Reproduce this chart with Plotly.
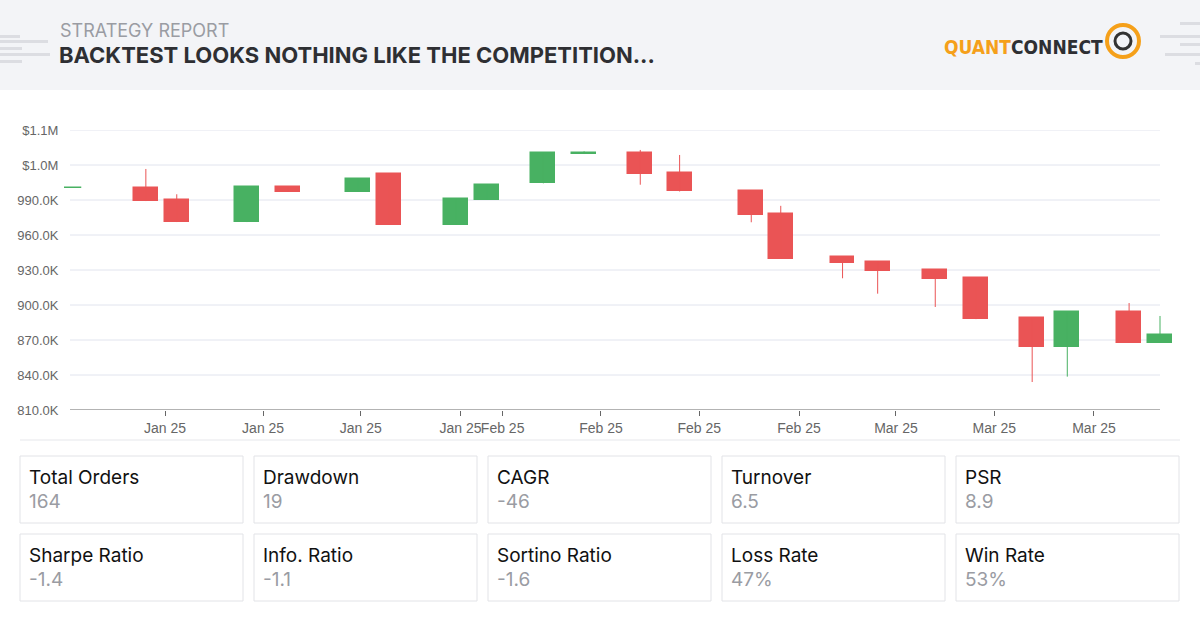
import plotly.graph_objects as go

# data (x in days from start)
x_days = [0, 5.4, 7.6, 12.6, 15.5, 20.5, 22.7, 27.5, 29.7, 33.7, 36.6, 40.6, 43.4,
          48.5, 50.6, 55.0, 57.5, 61.6, 64.5, 68.5, 71.0, 75.4, 77.6]
opens = [1000.3, 1000.3, 990.0, 971.1, 1000.9, 996.9, 1012.3, 968.9, 990.0, 1004.3, 1029.4, 1030.6, 1013.1,
         997.9, 977.7, 940.9, 936.9, 929.7, 922.9, 888.6, 864.0, 893.7, 867.7]
closes = [1000.3, 989.1, 971.1, 1000.9, 996.9, 1008.3, 968.9, 990.6, 1003.1, 1030.0, 1030.6, 1012.0, 997.3,
          977.1, 939.7, 935.7, 928.9, 922.0, 887.9, 864.0, 893.7, 867.7, 874.3]
highs = [1000.3, 1016.6, 994.9, 1000.9, 1000.9, 1008.3, 1012.3, 990.6, 1003.1, 1030.0, 1031.7, 1032.9, 1028.6,
         997.9, 985.0, 940.9, 936.9, 929.7, 922.9, 888.6, 893.7, 901.7, 890.6]
lows = [1000.3, 989.1, 971.1, 971.1, 996.9, 996.9, 968.9, 968.9, 990.0, 1004.3, 1029.4, 1003.1, 997.3,
        970.9, 939.7, 922.9, 909.7, 898.3, 887.9, 834.0, 838.6, 867.7, 867.7]
tick_days = [6.77, 13.75, 20.7, 27.8, 30.8, 37.8, 44.8, 51.9, 58.8, 65.8, 72.9]
tick_labels = ["Jan 25", "Jan 25", "Jan 25", "Jan 25", "Feb 25", "Feb 25", "Feb 25", "Feb 25",
               "Mar 25", "Mar 25", "Mar 25"]
y_ticks = [810, 840, 870, 900, 930, 960, 990, 1020, 1050]
y_labels = ["810.0K", "840.0K", "870.0K", "900.0K", "930.0K", "960.0K", "990.0K", "$1.0M", "$1.1M"]
stat_names = ["Total Orders", "Drawdown", "CAGR", "Turnover", "PSR",
              "Sharpe Ratio", "Info. Ratio", "Sortino Ratio", "Loss Rate", "Win Rate"]
stat_values = ["164", "19", "-46", "6.5", "8.9", "-1.4", "-1.1", "-1.6", "47%", "53%"]

GREEN = "#48b162"
RED = "#ea5455"
colors = [GREEN if c >= o else RED for o, c in zip(opens, closes)]

fig = go.Figure()
for i in range(len(x_days)):
    fig.add_trace(go.Scatter(x=[x_days[i], x_days[i]], y=[lows[i] * 1000, highs[i] * 1000], mode="lines",
                             line=dict(color=colors[i], width=1), hoverinfo="skip", showlegend=False))
fig.add_trace(go.Bar(x=x_days, base=[min(o, c) * 1000 for o, c in zip(opens, closes)],
                     y=[abs(c - o) * 1000 for o, c in zip(opens, closes)], width=1.7,
                     marker=dict(color=colors, line=dict(color=colors, width=1.5)), showlegend=False))

# plot area spans px 64..1172 -> x range chosen so that 0 maps to px 70 and 77.6 to 1160
L, R = 64, 1172
scale = (1160 - 70) / 77.6
x0r = -(70 - L) / scale
x1r = 77.6 + (R - 1160) / scale

TICKFONT = "Liberation Sans, Arial, sans-serif"
fig.update_layout(
    width=1200, height=632, margin=dict(l=L, r=1200 - R, t=130, b=222),
    paper_bgcolor="white", plot_bgcolor="white",
    font=dict(family="Inter, Roboto, sans-serif"),
    xaxis=dict(range=[x0r, x1r], tickvals=tick_days, ticktext=tick_labels, showgrid=False, tickangle=0,
               ticks="outside", ticklen=5, tickcolor="#666", showline=False,
               tickfont=dict(size=14, color="#666", family=TICKFONT), zeroline=False),
    yaxis=dict(range=[810000, 1050000], tickvals=[v * 1000 for v in y_ticks], ticktext=y_labels,
               showgrid=False, tickfont=dict(size=13, color="#666", family=TICKFONT),
               zeroline=False, ticklen=2, ticks="outside", tickcolor="white"),
    bargap=0,
)


def px(xp):
    return (xp - L) / (R - L)


def py(yp):
    return (410 - yp) / 280


shapes = [dict(type="rect", xref="paper", yref="paper", x0=px(0), x1=px(1200), y0=py(0), y1=py(90),
               fillcolor="#f3f4f7", line=dict(width=0), layer="below")]
# gridlines from 70 to 1160 in pixel space, bound to y values
for v in y_ticks:
    shapes.append(dict(type="line", xref="paper", yref="y", x0=px(70), x1=px(1160), y0=v * 1000, y1=v * 1000,
                       line=dict(color="#e1e4ee" if v != 810 else "#666", width=1), layer="below"))
for (x0, x1, y) in [(0, 20, 35), (0, 48, 40), (0, 22, 47), (0, 50, 53), (0, 22, 60),
                    (1180, 1200, 22), (1160, 1200, 35), (1180, 1200, 43), (1165, 1200, 53), (1195, 1200, 62)]:
    shapes.append(dict(type="rect", xref="paper", yref="paper", x0=px(x0), x1=px(x1), y0=py(y + 3), y1=py(y),
                       fillcolor="#dcdde2", line=dict(width=0)))
shapes.append(dict(type="line", xref="paper", yref="paper", x0=px(20), x1=px(1180), y0=py(440), y1=py(440),
                   line=dict(color="#e6e7eb", width=1)))
shapes.append(dict(type="circle", xref="paper", yref="paper", x0=px(1107), x1=px(1139), y0=py(57), y1=py(25),
                   line=dict(color="#f5a01a", width=4)))
shapes.append(dict(type="circle", xref="paper", yref="paper", x0=px(1115), x1=px(1131), y0=py(49), y1=py(33),
                   line=dict(color="#333", width=3)))

annotations = [
    dict(text="STRATEGY REPORT", x=px(58), y=py(31), xref="paper", yref="paper", xanchor="left",
         yanchor="middle", showarrow=False, font=dict(size=18, color="#9a9ca3")),
    dict(text="<b>BACKTEST LOOKS NOTHING LIKE THE COMPETITION...</b>", x=px(57), y=py(55), xref="paper",
         yref="paper", xanchor="left", yanchor="middle", showarrow=False, font=dict(size=22, color="#2e2f33")),
    dict(text="<b><span style='color:#f5a01a'>QUANT</span>CONNECT</b>", x=px(1105), y=py(47), xref="paper",
         yref="paper", xanchor="right", yanchor="middle", showarrow=False,
         font=dict(size=19, color="#2e2f33", family="Liberation Sans Narrow, DejaVu Sans Condensed")),
]

col_x = [20, 254, 488, 722, 956]
row_y = [456, 534]
for i, (name, val) in enumerate(zip(stat_names, stat_values)):
    cx = col_x[i % 5]
    ry = row_y[i // 5]
    shapes.append(dict(type="rect", xref="paper", yref="paper", x0=px(cx), x1=px(cx + 223),
                       y0=py(ry + 67), y1=py(ry), line=dict(color="#e2e3e7", width=1),
                       fillcolor="rgba(0,0,0,0)"))
    annotations.append(dict(text=name, x=px(cx + 7), y=py(ry + 21), xref="paper", yref="paper",
                            xanchor="left", yanchor="middle", showarrow=False,
                            font=dict(size=19, color="#111")))
    annotations.append(dict(text=val, x=px(cx + 7), y=py(ry + 45), xref="paper", yref="paper",
                            xanchor="left", yanchor="middle", showarrow=False,
                            font=dict(size=19, color="#9a9ca3")))

fig.update_layout(shapes=shapes, annotations=annotations)
fig.write_html("out.html", config={"displayModeBar": False},
               post_script="document.body.style.margin='0';document.body.style.overflow='hidden';")
